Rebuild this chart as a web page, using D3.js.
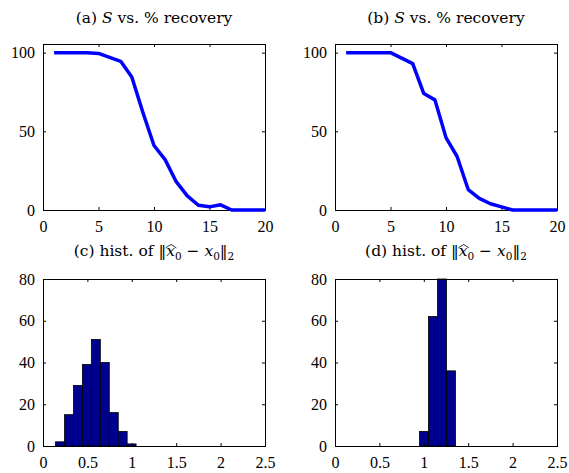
<!DOCTYPE html>
<html>
<head>
<meta charset="utf-8">
<script src="https://cdn.jsdelivr.net/npm/d3@7/dist/d3.min.js"></script>
<style>
  body { margin: 0; background: #fff; }
  svg text { font-family: "Liberation Serif", serif; font-size: 16px; fill: #000; }
  svg text.title { font-family: "DejaVu Serif", serif; font-size: 15.5px; }
  .frame { fill: none; stroke: #000; stroke-width: 1; }
  .tick line { stroke: #000; }
  .curve { fill: none; stroke: #0000ff; stroke-width: 3.5; stroke-linejoin: round; }
  .bar { fill: #00008f; stroke: #000; stroke-width: 0.8; }
</style>
</head>
<body>
<script>
// S (sparsity) values on the x axis of the top plots
var sparsity = [1, 2, 3, 4, 5, 6, 7, 8, 9, 10, 11, 12, 13, 14, 15, 16, 17, 18, 19, 20];
// % recovery, panel (a) and (b)
var recoveryA = [100, 100, 100, 100, 99.5, 97, 94.5, 84.5, 62, 41, 32, 18, 9, 3, 2, 3.3, 0, 0, 0, 0];
var recoveryB = [100, 100, 100, 100, 100, 96.5, 93, 74, 70, 46, 34, 13, 7.4, 4, 2, 0, 0, 0, 0, 0];

// histogram bins (centres) and counts, panel (c) and (d)
var binWidth = 0.101;
var centersC = [0.192, 0.293, 0.394, 0.494, 0.595, 0.696, 0.797, 0.897, 0.998];
var countsC  = [2, 15, 29, 39, 51, 40, 16, 7, 1];
var centersD = [1.003, 1.104, 1.205, 1.306];
var countsD  = [7, 62, 80, 36];

// tick labels
var ticksS = [0, 5, 10, 15, 20];
var ticksRec = [0, 50, 100];
var ticksErr = [0, 0.5, 1, 1.5, 2, 2.5];
var ticksCount = [0, 20, 40, 60, 80];

var W = 569, H = 473;
var svg = d3.select("body").append("svg")
    .attr("width", W)
    .attr("height", H);

// panel boxes
var colX = [[43, 265], [335, 557]];
var rowY = [[44, 210], [279, 446]];

function drawFrame(g, x, y, xt, yt, xfmt, yfmt) {
    var x0 = x.range()[0], x1 = x.range()[1];
    var y0 = y.range()[1], y1 = y.range()[0];

    g.append("g")
        .attr("transform", "translate(0," + y1 + ")")
        .call(d3.axisBottom(x).tickValues(xt).tickFormat(xfmt).tickSizeInner(-3).tickSizeOuter(0).tickPadding(11))
        .call(function(a) { a.select(".domain").remove(); });
    g.append("g")
        .attr("transform", "translate(0," + y0 + ")")
        .call(d3.axisTop(x).tickValues(xt).tickFormat("").tickSizeInner(-3).tickSizeOuter(0))
        .call(function(a) { a.select(".domain").remove(); });
    g.append("g")
        .attr("transform", "translate(" + x0 + ",0)")
        .call(d3.axisLeft(y).tickValues(yt).tickFormat(yfmt).tickSizeInner(-3).tickSizeOuter(0).tickPadding(8))
        .call(function(a) { a.select(".domain").remove(); });
    g.append("g")
        .attr("transform", "translate(" + x1 + ",0)")
        .call(d3.axisRight(y).tickValues(yt).tickFormat("").tickSizeInner(-3).tickSizeOuter(0))
        .call(function(a) { a.select(".domain").remove(); });

    g.selectAll("g").attr("font-family", null).attr("font-size", null);
    g.selectAll(".tick text")
        .attr("font-family", "Liberation Serif")
        .attr("font-size", 16);

    g.append("rect")
        .attr("class", "frame")
        .attr("x", x0 + 0.5)
        .attr("y", y0 + 0.5)
        .attr("width", x1 - x0)
        .attr("height", y1 - y0);
}

function lineTitle(cx, y, tag) {
    var t = svg.append("text")
        .attr("class", "title")
        .attr("x", cx)
        .attr("y", y)
        .attr("text-anchor", "middle");
    t.append("tspan").text("(" + tag + ") ");
    t.append("tspan").attr("font-style", "italic").text("S");
    t.append("tspan").text(" vs. % recovery");
}

function histTitle(cx, y, tag) {
    var t = svg.append("text")
        .attr("class", "title")
        .attr("x", cx)
        .attr("y", y)
        .attr("text-anchor", "middle");
    var pre = "(" + tag + ") hist. of ";
    t.append("tspan").text(pre);
    t.append("tspan").text("\u2016");
    t.append("tspan").attr("font-style", "italic").text("x");
    t.append("tspan").style("font-size", "10.5px").attr("dy", 4).text("0");
    t.append("tspan").attr("dy", -4).text(" \u2212 ");
    t.append("tspan").attr("font-style", "italic").text("x");
    t.append("tspan").style("font-size", "10.5px").attr("dy", 4).text("0");
    t.append("tspan").attr("dy", -4).text("\u2016");
    t.append("tspan").style("font-size", "10.5px").attr("dy", 4).text("2");

    // widehat over the first x
    var box = t.node().getExtentOfChar(pre.length + 1);
    var hx0 = box.x - 0.5, hx1 = box.x + box.width + 1.5;
    var hy = box.y + box.height * 0.22;
    svg.append("path")
        .attr("d", "M" + hx0 + "," + (hy + 2) + "L" + ((hx0 + hx1) / 2) + "," + (hy - 1.5) + "L" + hx1 + "," + (hy + 2))
        .attr("fill", "none")
        .attr("stroke", "#000")
        .attr("stroke-width", 0.8);
}

// ---- top row: line plots
[[recoveryA, "a"], [recoveryB, "b"]].forEach(function(p, i) {
    var x = d3.scaleLinear().domain([0, 20]).range(colX[i]);
    var y = d3.scaleLinear().domain([0, 105.5]).range([rowY[0][1], rowY[0][0]]);
    var g = svg.append("g");

    drawFrame(g, x, y, ticksS, ticksRec, d3.format("d"), d3.format("d"));

    var line = d3.line()
        .x(function(d, k) { return x(sparsity[k]); })
        .y(function(d) { return y(d); });
    g.append("path")
        .datum(p[0])
        .attr("class", "curve")
        .attr("d", line);

    lineTitle((colX[i][0] + colX[i][1]) / 2, 23, p[1]);
});

// ---- bottom row: histograms
[[centersC, countsC, "c"], [centersD, countsD, "d"]].forEach(function(p, i) {
    var x = d3.scaleLinear().domain([0, 2.5]).range(colX[i]);
    var y = d3.scaleLinear().domain([0, 80]).range([rowY[1][1], rowY[1][0]]).clamp(true);
    var g = svg.append("g");

    var bins = p[0].map(function(c, k) { return { c: c, n: p[1][k] }; });
    g.selectAll("rect.bar")
        .data(bins)
        .enter().append("rect")
        .attr("class", "bar")
        .attr("x", function(d) { return x(d.c - binWidth / 2); })
        .attr("width", function(d) { return x(d.c + binWidth / 2) - x(d.c - binWidth / 2); })
        .attr("y", function(d) { return y(d.n); })
        .attr("height", function(d) { return y(0) - y(d.n); });

    drawFrame(g, x, y, ticksErr, ticksCount, function(d) { return String(d); }, d3.format("d"));

    histTitle((colX[i][0] + colX[i][1]) / 2, 256, p[2]);
});
</script>
</body>
</html>
